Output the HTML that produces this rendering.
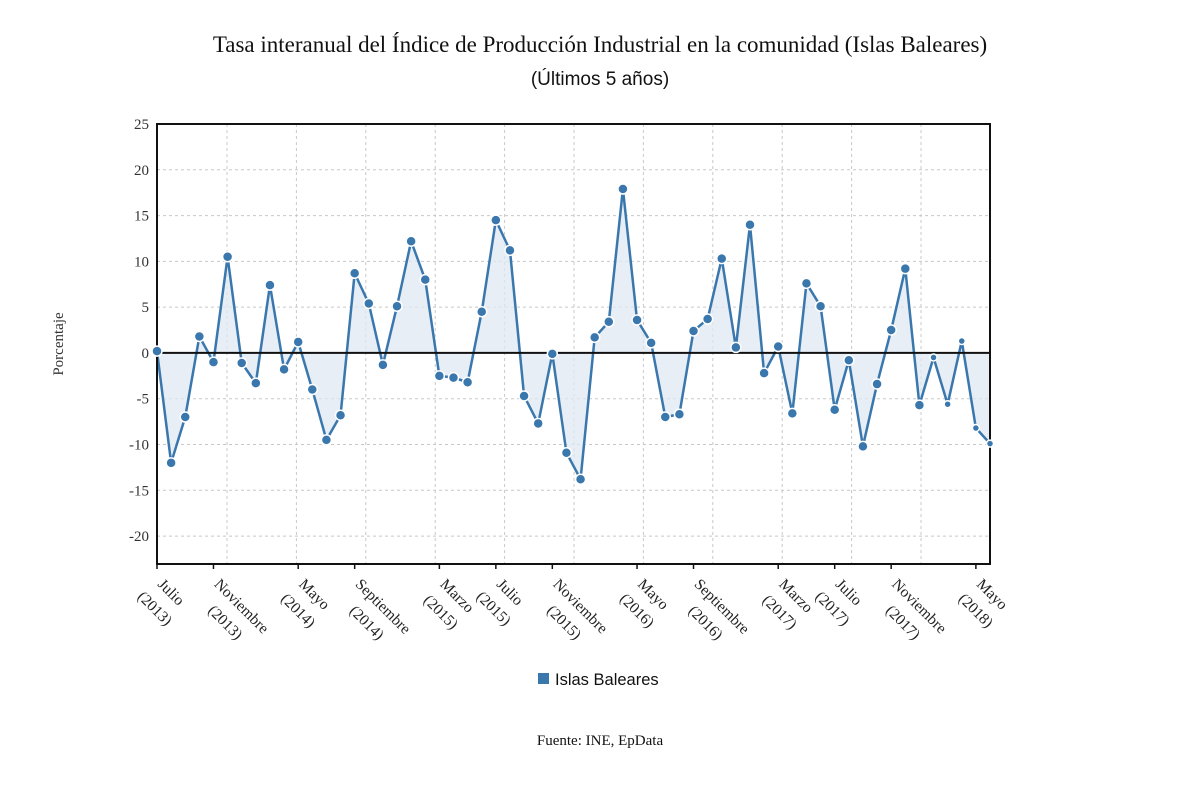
<!DOCTYPE html>
<html><head><meta charset="utf-8"><style>
body{margin:0;background:#fff;width:1200px;height:808px;overflow:hidden}
svg{display:block}
.serif{font-family:"Liberation Serif",serif}
.sans{font-family:"Liberation Sans",sans-serif}
</style></head><body>
<svg id="chart" width="1200" height="808">
<text class="serif" x="600" y="52" text-anchor="middle" font-size="23" fill="#111">Tasa interanual del Índice de Producción Industrial en la comunidad (Islas Baleares)</text>
<text class="sans" x="600" y="85" text-anchor="middle" font-size="19" fill="#111">(Últimos 5 años)</text>
<text class="serif" transform="translate(63,344) rotate(-90)" text-anchor="middle" font-size="15" fill="#333">Porcentaje</text>
<g id="grid"></g><g id="area"></g><g id="line"></g><g id="axes"></g><g id="points"></g>
<rect x="538" y="673" width="11" height="11" fill="#3a77ad"/>
<text class="sans" x="555" y="685" font-size="16.5" fill="#111">Islas Baleares</text>
<text class="serif" x="600" y="745" text-anchor="middle" font-size="15" fill="#111">Fuente: INE, EpData</text>
</svg>
<script>
const values=[0.2,-12,-7,1.8,-1,10.5,-1.1,-3.3,7.4,-1.8,1.2,-4,-9.5,-6.8,8.7,5.4,-1.3,5.1,12.2,8,-2.5,-2.7,-3.2,4.5,14.5,11.2,-4.7,-7.7,-0.1,-10.9,-13.8,1.7,3.4,17.9,3.6,1.1,-7,-6.7,2.4,3.7,10.3,0.6,14,-2.2,0.7,-6.6,7.6,5.1,-6.2,-0.8,-10.2,-3.4,2.5,9.2,-5.7,-0.5,-5.6,1.3,-8.2,-9.9];
const yTicks=[25,20,15,10,5,0,-5,-10,-15,-20];
const labelIdx=[0,4,10,14,20,24,28,34,38,44,48,52,58];
const labelMonth=["Julio","Noviembre","Mayo","Septiembre","Marzo","Julio","Noviembre","Mayo","Septiembre","Marzo","Julio","Noviembre","Mayo"];
const labelYear=["(2013)","(2013)","(2014)","(2014)","(2015)","(2015)","(2015)","(2016)","(2016)","(2017)","(2017)","(2017)","(2018)"];
const L=157,R=990,T=124,B=564,yMax=25,yMin=-23.05;
const X=i=>L+(R-L)*i/(values.length-1);
const Y=v=>T+(yMax-v)/(yMax-yMin)*(B-T);
const NS="http://www.w3.org/2000/svg";
function mk(tag,attrs,parent){const e=document.createElementNS(NS,tag);for(const k in attrs)e.setAttribute(k,attrs[k]);document.getElementById(parent).appendChild(e);return e;}
yTicks.forEach(t=>{
 const g=mk('line',{x1:L,x2:R,y1:Y(t),y2:Y(t),stroke:'#c8c8c8','stroke-dasharray':'3,3'},'grid');
 
 
 const tx=mk('text',{x:L-8,y:Y(t)+5,'text-anchor':'end','font-size':15,fill:'#333',class:'serif'},'axes');
 tx.textContent=t;
 
 
});
for(let gx=227;gx<R;gx+=69.4){
 const g=mk('line',{x1:gx,x2:gx,y1:T,y2:B,stroke:'#c8c8c8','stroke-dasharray':'3,3'},'grid');
 
 
}
let d=`M${X(0)},${Y(0)}`;values.forEach((v,i)=>d+=`L${X(i)},${Y(v)}`);d+=`L${X(values.length-1)},${Y(0)}Z`;
const ar=mk('path',{d:d,fill:'#dfe8f1','fill-opacity':0.75},'area');


const ln=mk('polyline',{points:values.map((v,i)=>X(i)+','+Y(v)).join(' '),fill:'none',stroke:'#3a77ad','stroke-width':2.5},'line');


const fr=mk('rect',{x:L,y:T,width:R-L,height:B-T,fill:'none',stroke:'#111','stroke-width':2},'axes');


const zl=mk('line',{x1:L,x2:R,y1:Y(0),y2:Y(0),stroke:'#111','stroke-width':2},'axes');


labelIdx.forEach((idx,k)=>{
 const x=X(idx);
 const tk=mk('line',{x1:x,x2:x,y1:B,y2:B+5,stroke:'#111','stroke-width':1.5},'axes');
 
 
 const t=mk('text',{transform:`translate(${x},${B+21}) rotate(45)`,'font-size':15.5,fill:'#222',class:'serif'},'axes');
 
 
 const a=document.createElementNS(NS,'tspan');a.setAttribute('x',0);a.setAttribute('y',0);a.textContent=labelMonth[k];t.appendChild(a);
 const b=document.createElementNS(NS,'tspan');b.setAttribute('y',23);b.textContent=labelYear[k];t.appendChild(b);
 const w1=a.getComputedTextLength(),w2=b.getComputedTextLength();
 b.setAttribute('x',(w1-w2)/2);
});
values.forEach((v,i)=>{
 const r=i>=values.length-5?3.5:5;
 const c=mk('circle',{cx:X(i),cy:Y(v),r:r,fill:'#3a77ad',stroke:'#fff','stroke-width':1.5},'points');
 
 
});
</script>
</body></html>
